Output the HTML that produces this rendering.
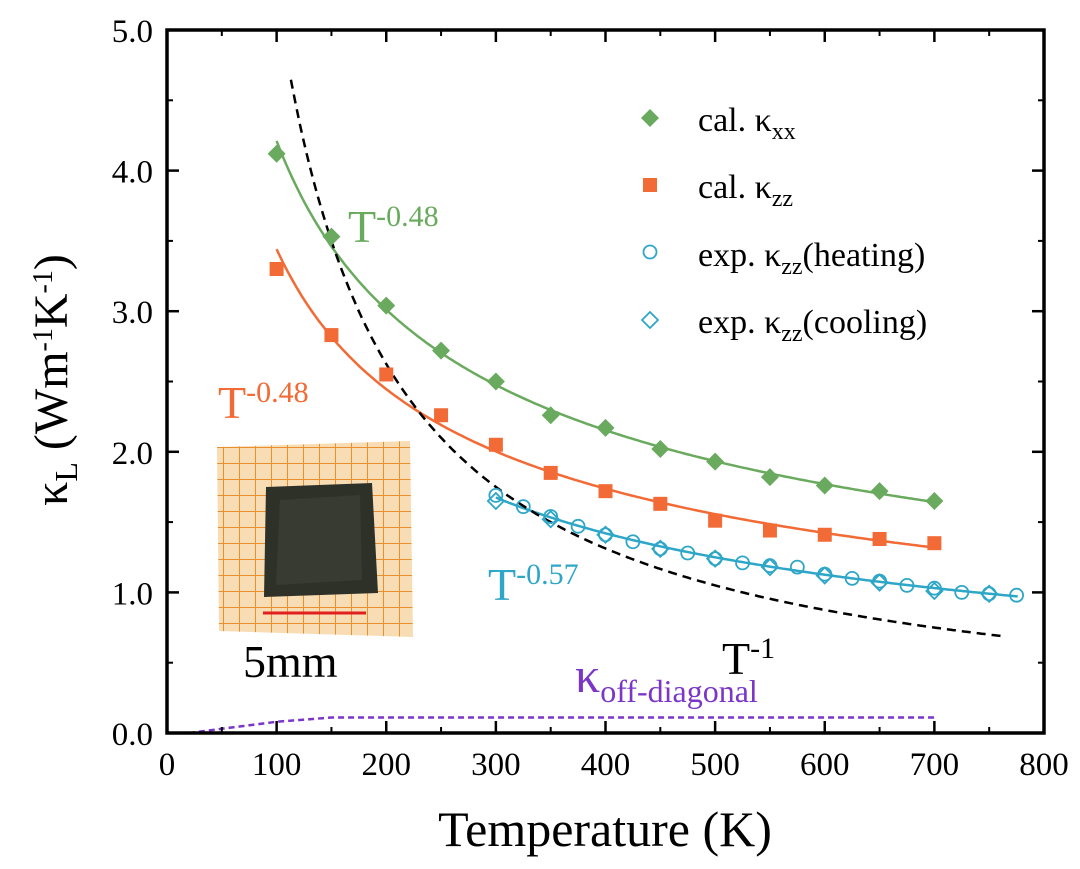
<!DOCTYPE html>
<html><head><meta charset="utf-8"><style>
body{margin:0;background:#fff;width:1080px;height:864px;overflow:hidden}
svg text{font-family:"Liberation Serif",serif}
</style></head><body>
<svg id="c" width="1080" height="864" viewBox="0 0 1080 864">
<defs><pattern id="grid" width="16" height="16" patternUnits="userSpaceOnUse"><rect width="16" height="16" fill="#f7dcb4"/><path d="M16 0V16H0" fill="none" stroke="#e8902f" stroke-width="2"/></pattern></defs>
<g id="inset">
<polygon points="217,447 410,441 413,637 219,631" fill="url(#grid)"/>
<polygon points="266,487 372,483 378,593 264,597" fill="#2e3128"/>
<polygon points="280,500 360,495 362,580 276,585" fill="#3c4034" opacity="0.7"/>
<line x1="263" y1="613" x2="366" y2="613" stroke="#e02020" stroke-width="3"/>
<text x="243" y="677" font-size="46">5mm</text>
</g>
<g id="plot"></g>
</svg>
<script>
const tempsCalc=[100,150,200,250,300,350,400,450,500,550,600,650,700];
const kxx=[4.12,3.53,3.04,2.72,2.50,2.26,2.17,2.02,1.93,1.82,1.76,1.72,1.65];
const kzz=[3.30,2.83,2.55,2.26,2.05,1.85,1.72,1.63,1.51,1.44,1.41,1.38,1.35];
const tempsHeat=[300,325,350,375,400,425,450,475,500,525,550,575,600,625,650,675,700,725,750,775];
const kHeat=[1.69,1.61,1.54,1.47,1.41,1.36,1.31,1.28,1.24,1.21,1.19,1.18,1.13,1.10,1.08,1.05,1.03,1.00,0.99,0.98];
const tempsCool=[300,350,400,450,500,550,600,650,700,750];
const kCool=[1.65,1.52,1.41,1.31,1.24,1.18,1.12,1.07,1.01,0.99];
const offT=[20,50,100,150,200,300,400,500,600,700];
const offK=[0.0,0.03,0.08,0.11,0.11,0.11,0.11,0.11,0.11,0.11];
const xTicks=[0,100,200,300,400,500,600,700,800];
const yTicks=[0,1,2,3,4,5];
const X=v=>167+v*(1044-167)/800, Y=v=>733-v*(733-30)/5;
const NS="http://www.w3.org/2000/svg",g=document.getElementById('plot');
function el(t,a,p){const e=document.createElementNS(NS,t);for(const k in a)e.setAttribute(k,a[k]);(p||g).appendChild(e);return e;}
function fit(ts,ks){let n=ts.length,sx=0,sy=0,sxx=0,sxy=0;ts.forEach((t,i)=>{const a=Math.log(t),b=Math.log(ks[i]);sx+=a;sy+=b;sxx+=a*a;sxy+=a*b});const m=(n*sxy-sx*sy)/(n*sxx-sx*sx),c=(sy-m*sx)/n;return t=>Math.exp(c)*Math.pow(t,m);}
function curve(f,t0,t1,attrs,name){let d='';for(let t=t0;t<=t1;t+=2)d+=(d?'L':'M')+X(t).toFixed(1)+' '+Y(f(t)).toFixed(1);const p=el('path',Object.assign({d:d,fill:'none'},attrs));}
const fx=fit(tempsCalc,kxx),fz=fit(tempsCalc,kzz),fh=fit(tempsHeat,kHeat);
curve(fx,100,700,{stroke:'#6aaa5e','stroke-width':2.5},'fit-kxx');
curve(fz,100,700,{stroke:'#f26a35','stroke-width':2.5},'fit-kzz');
curve(fh,300,776,{stroke:'#2ea6c8','stroke-width':2.5},'fit-exp');
curve(t=>525/t,113,762,{stroke:'#000','stroke-width':2.5,'stroke-dasharray':'9,6'},'t-inverse-line');
let d='';offT.forEach((t,i)=>d+=(i?'L':'M')+X(t)+' '+Y(offK[i]));
const op=el('path',{d:d,fill:'none',stroke:'#7b35c8','stroke-width':2.5,'stroke-dasharray':'6,4'});

function diamond(x,y,s,a){return el('polygon',Object.assign({points:`${x},${y-s} ${x+s},${y} ${x},${y+s} ${x-s},${y}`},a));}
tempsCalc.forEach((t,i)=>{const m=diamond(X(t),Y(kxx[i]),9,{fill:'#6aaa5e'});});
tempsCalc.forEach((t,i)=>{const m=el('rect',{x:X(t)-7,y:Y(kzz[i])-7,width:14,height:14,fill:'#f26a35'});});
tempsHeat.forEach((t,i)=>{const m=el('circle',{cx:X(t),cy:Y(kHeat[i]),r:6.5,fill:'none',stroke:'#2ea6c8','stroke-width':1.8});});
tempsCool.forEach((t,i)=>{const m=diamond(X(t),Y(kCool[i]),8,{fill:'none',stroke:'#2ea6c8','stroke-width':1.8});});
const fr=el('rect',{x:167,y:30,width:877,height:703,fill:'none',stroke:'#000','stroke-width':3.5});

xTicks.forEach(v=>{el('line',{x1:X(v),x2:X(v),y1:733,y2:721,stroke:'#000','stroke-width':2.5});el('line',{x1:X(v),x2:X(v),y1:30,y2:42,stroke:'#000','stroke-width':2.5});
 if(v<800){el('line',{x1:X(v+50),x2:X(v+50),y1:733,y2:727,stroke:'#000','stroke-width':2});el('line',{x1:X(v+50),x2:X(v+50),y1:30,y2:36,stroke:'#000','stroke-width':2});}
 const t=el('text',{x:X(v),y:775,'font-size':33,'text-anchor':'middle'});t.textContent=v;});
yTicks.forEach(v=>{el('line',{x1:167,x2:179,y1:Y(v),y2:Y(v),stroke:'#000','stroke-width':2.5});el('line',{x1:1044,x2:1032,y1:Y(v),y2:Y(v),stroke:'#000','stroke-width':2.5});
 if(v<5){el('line',{x1:167,x2:173,y1:Y(v+.5),y2:Y(v+.5),stroke:'#000','stroke-width':2});el('line',{x1:1044,x2:1038,y1:Y(v+.5),y2:Y(v+.5),stroke:'#000','stroke-width':2});}
 const t=el('text',{x:153,y:Y(v)+12,'font-size':33,'text-anchor':'end'});t.textContent=v.toFixed(1);});
function txt(html,a,name){const t=el('text',a);t.innerHTML=html;}
txt('Temperature (K)',{x:605,y:846,'font-size':50,'text-anchor':'middle'},'x-axis-title');
txt('κ<tspan font-size="32" dy="10">L</tspan><tspan dy="-10"> (Wm</tspan><tspan font-size="28" dy="-15">-1</tspan><tspan dy="15">K</tspan><tspan font-size="28" dy="-15">-1</tspan><tspan dy="15">)</tspan>',{x:0,y:0,'font-size':48,'text-anchor':'middle',transform:'translate(67,380) rotate(-90)'},'y-axis-title');
txt('T<tspan font-size="30" dy="-16">-0.48</tspan>',{x:348,y:242,'font-size':46,fill:'#6aaa5e'},'kxx-fit-label');
txt('T<tspan font-size="30" dy="-16">-0.48</tspan>',{x:218,y:418,'font-size':46,fill:'#f26a35'},'kzz-fit-label');
txt('T<tspan font-size="30" dy="-16">-0.57</tspan>',{x:488,y:600,'font-size':46,fill:'#2ea6c8'},'exp-fit-label');
txt('T<tspan font-size="30" dy="-16">-1</tspan>',{x:722,y:674,'font-size':46},'t-inverse-label');
txt('κ<tspan font-size="32" dy="10">off-diagonal</tspan>',{x:575,y:692,'font-size':50,fill:'#7b35c8'},'off-diagonal-label');
const lg=[[120,'cal.  κ<tspan font-size="24" dy="8">xx</tspan>'],[187,'cal.  κ<tspan font-size="24" dy="8">zz</tspan>'],[255,'exp. κ<tspan font-size="24" dy="8">zz</tspan><tspan dy="-8">(heating)</tspan>'],[322,'exp. κ<tspan font-size="24" dy="8">zz</tspan><tspan dy="-8">(cooling)</tspan>']];
let m=diamond(650,118,9,{fill:'#6aaa5e'});
m=el('rect',{x:643,y:178,width:14,height:14,fill:'#f26a35'});
m=el('circle',{cx:650,cy:252,r:6.5,fill:'none',stroke:'#2ea6c8','stroke-width':1.8});
m=diamond(650,320,8,{fill:'none',stroke:'#2ea6c8','stroke-width':1.8});
lg.forEach(l=>txt(l[1],{x:698,y:l[0]+11,'font-size':34},'legend-entry'));
</script>
</body></html>
